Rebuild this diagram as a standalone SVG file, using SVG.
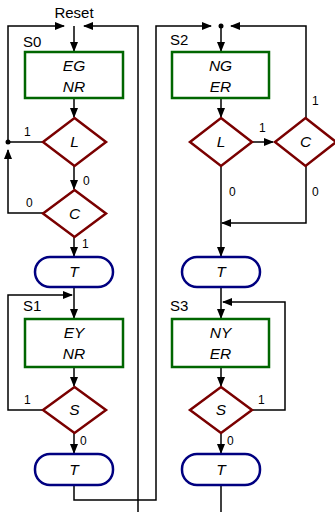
<svg xmlns="http://www.w3.org/2000/svg" width="335" height="512" viewBox="0 0 335 512">
  <style>
    .state { fill: #ffffff; stroke: #006600; stroke-width: 2.5; }
    .dec { fill: #ffffff; stroke: #7a0000; stroke-width: 2.5; }
    .term { fill: #ffffff; stroke: #000080; stroke-width: 2.5; }
    .wire { fill: none; stroke: #000000; stroke-width: 1.5; }
    .arr { marker-end: url(#ah); }
    .in { font-family: "Liberation Sans", Arial, sans-serif; font-size: 15.5px; font-style: italic; text-anchor: middle; fill: #000; }
    .lbl { font-family: "Liberation Sans", Arial, sans-serif; font-size: 15px; fill: #000; }
    .el { font-family: "Liberation Sans", Arial, sans-serif; font-size: 12px; fill: #000; }
  </style>
  <defs>
    <marker id="ah" markerWidth="10" markerHeight="8" refX="9" refY="4" orient="auto" markerUnits="userSpaceOnUse">
      <path d="M0,0 L10,4 L0,8 z" fill="#000"/>
    </marker>
  </defs>

  <g id="connectors">
    <!-- reset entry and S0 loop-back -->
    <path class="wire" d="M8,142 V26 H64" marker-end="url(#ah)"/>
    <path class="wire" d="M138,512 V26 H84" marker-end="url(#ah)"/>
    <path class="wire arr" d="M74,26 V51"/>
    <path class="wire arr" d="M74,98 V117"/>
    <path class="wire" d="M43,142 H8"/>
    <path class="wire arr" d="M74,166 V189"/>
    <path class="wire arr" d="M43,213 H8 V150"/>
    <path class="wire arr" d="M74,237 V256"/>
    <!-- S1 -->
    <path class="wire arr" d="M74,287 V318"/>
    <path class="wire arr" d="M43,410 H8 V295 H72"/>
    <path class="wire arr" d="M74,367 V386"/>
    <path class="wire arr" d="M74,433 V453"/>
    <path class="wire" d="M74,485 V500 H156 V26 H211" marker-end="url(#ah)"/>
    <!-- S2 -->
    <path class="wire arr" d="M306,118 V26 H231"/>
    <path class="wire arr" d="M221,26 V51"/>
    <path class="wire arr" d="M221,98 V117"/>
    <path class="wire arr" d="M252,142 H273"/>
    <path class="wire arr" d="M221,166 V256"/>
    <path class="wire arr" d="M306,166 V223 H222"/>
    <!-- S3 -->
    <path class="wire arr" d="M221,287 V318"/>
    <path class="wire arr" d="M252,410 H285 V302 H223"/>
    <path class="wire arr" d="M221,367 V386"/>
    <path class="wire arr" d="M221,433 V453"/>
    <path class="wire" d="M221,485 V512"/>
    <circle cx="8" cy="142" r="2.5" fill="#000"/>
    <circle cx="221" cy="26" r="2.5" fill="#000"/>
    <!-- edge labels -->
    <text class="lbl" x="74" y="18" text-anchor="middle">Reset</text>
    <text class="el" x="24" y="136">1</text>
    <text class="el" x="83" y="185">0</text>
    <text class="el" x="26" y="207">0</text>
    <text class="el" x="82" y="248">1</text>
    <text class="el" x="24" y="404">1</text>
    <text class="el" x="80" y="445">0</text>
    <text class="el" x="259" y="132">1</text>
    <text class="el" x="312" y="105">1</text>
    <text class="el" x="229" y="196">0</text>
    <text class="el" x="312" y="196">0</text>
    <text class="el" x="258" y="404">1</text>
    <text class="el" x="227" y="445">0</text>
  </g>

  <g id="S0">
    <text class="lbl" x="23" y="47">S0</text>
    <rect class="state" x="25" y="52" width="98" height="46"/>
    <text class="in" x="74" y="71">EG</text>
    <text class="in" x="74" y="92">NR</text>
  </g>
  <g id="S0-L">
    <polygon class="dec" points="74.5,118 106,142 74.5,166 43,142"/>
    <text class="in" x="74.5" y="147">L</text>
  </g>
  <g id="S0-C">
    <polygon class="dec" points="74.5,190 106,213.5 74.5,237 43,213.5"/>
    <text class="in" x="74.5" y="219">C</text>
  </g>
  <g id="S0-T">
    <rect class="term" x="35" y="257" width="78" height="30" rx="15"/>
    <text class="in" x="74" y="277">T</text>
  </g>

  <g id="S1">
    <text class="lbl" x="23" y="311">S1</text>
    <rect class="state" x="25" y="319" width="98" height="48"/>
    <text class="in" x="74" y="338">EY</text>
    <text class="in" x="74" y="359">NR</text>
  </g>
  <g id="S1-S">
    <polygon class="dec" points="74.5,387 106,410 74.5,433 43,410"/>
    <text class="in" x="74.5" y="415">S</text>
  </g>
  <g id="S1-T">
    <rect class="term" x="35" y="454" width="78" height="31" rx="15"/>
    <text class="in" x="74" y="475">T</text>
  </g>

  <g id="S2">
    <text class="lbl" x="170" y="45">S2</text>
    <rect class="state" x="172" y="52" width="97" height="46"/>
    <text class="in" x="220.5" y="71">NG</text>
    <text class="in" x="220.5" y="92">ER</text>
  </g>
  <g id="S2-L">
    <polygon class="dec" points="221,118 252,142 221,166 190,142"/>
    <text class="in" x="221" y="147">L</text>
  </g>
  <g id="S2-C">
    <polygon class="dec" points="305.5,118 336,142 305.5,166 275,142"/>
    <text class="in" x="305.5" y="147">C</text>
  </g>
  <g id="S2-T">
    <rect class="term" x="182" y="257" width="78" height="30" rx="15"/>
    <text class="in" x="221" y="277">T</text>
  </g>

  <g id="S3">
    <text class="lbl" x="170" y="311">S3</text>
    <rect class="state" x="172" y="319" width="97" height="48"/>
    <text class="in" x="220.5" y="338">NY</text>
    <text class="in" x="220.5" y="359">ER</text>
  </g>
  <g id="S3-S">
    <polygon class="dec" points="221,387 252,410 221,433 190,410"/>
    <text class="in" x="221" y="415">S</text>
  </g>
  <g id="S3-T">
    <rect class="term" x="182" y="454" width="78" height="31" rx="15"/>
    <text class="in" x="221" y="475">T</text>
  </g>
</svg>
